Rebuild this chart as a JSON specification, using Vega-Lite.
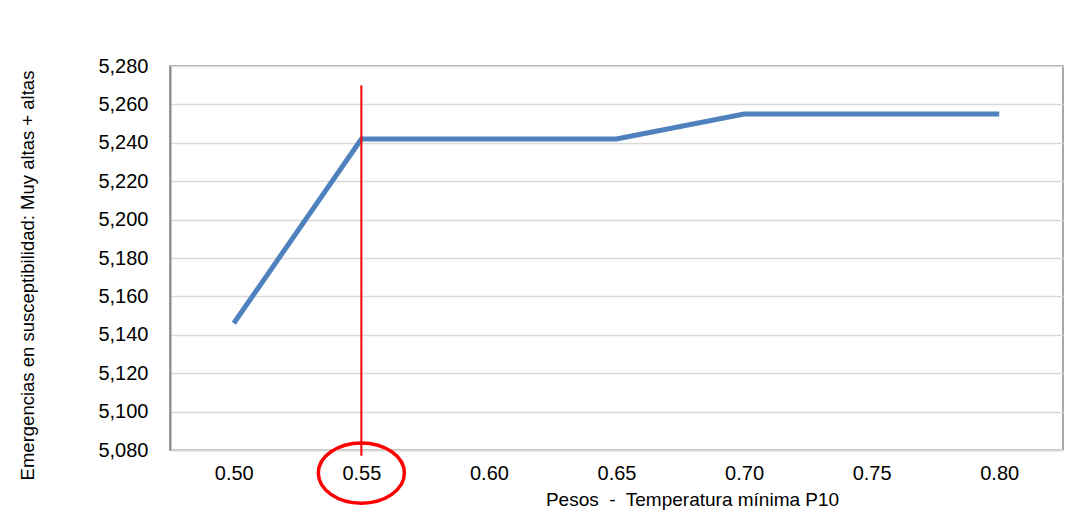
{
  "$schema": "https://vega.github.io/schema/vega-lite/v6.json",
  "autosize": "none",
  "padding": {"left": 170, "top": 66, "right": 11, "bottom": 74},
  "width": 893,
  "height": 384,
  "background": "white",
  "config": {
    "font": "Liberation Sans",
    "view": {"stroke": "#8c8c8c", "strokeWidth": 1.5},
    "axisY": {
      "titleFont": "Liberation Sans",
      "titleFontSize": 18.5,
      "titleFontWeight": "normal",
      "titleColor": "#000000",
      "titleX": -143,
      "titleY": 209,
      "titleAngle": -90,
      "titleAlign": "center",
      "titleBaseline": "middle",
      "labelOverlap": false,
      "labelFontSize": 20,
      "labelColor": "#000000",
      "labelPadding": 22,
      "ticks": false,
      "domainColor": "#8c8c8c",
      "domainWidth": 2,
      "gridColor": "#d9d9d9",
      "gridWidth": 1.5
    }
  },
  "datasets": {
    "serie": [
      {"peso": "0.50", "emergencias": 5146},
      {"peso": "0.55", "emergencias": 5242},
      {"peso": "0.60", "emergencias": 5242},
      {"peso": "0.65", "emergencias": 5242},
      {"peso": "0.70", "emergencias": 5255},
      {"peso": "0.75", "emergencias": 5255},
      {"peso": "0.80", "emergencias": 5255}
    ],
    "marca": [
      {"peso": "0.55", "desde": 5270, "hasta": 5077, "circulo": 5068}
    ]
  },
  "encoding": {
    "x": {
      "field": "peso",
      "type": "ordinal",
      "scale": {"type": "point", "padding": 0.5, "domain": ["0.50", "0.55", "0.60", "0.65", "0.70", "0.75", "0.80"]},
      "axis": {
        "title": "Pesos \u00a0-\u00a0 Temperatura mínima P10",
        "titleFont": "Liberation Sans",
        "titleFontSize": 19,
        "titleFontWeight": "normal",
        "titleColor": "#000000",
        "titleX": 522,
        "titleY": 49,
        "titleAlign": "center",
        "titleBaseline": "middle",
        "labelAngle": 0,
        "labelFontSize": 20,
        "labelColor": "#000000",
        "labelPadding": 13,
        "ticks": false,
        "domainColor": "#d9d9d9",
        "domainWidth": 2,
        "grid": false
      }
    }
  },
  "layer": [
    {
      "data": {"name": "serie"},
      "mark": {"type": "line", "color": "#4f81bd", "strokeWidth": 5},
      "encoding": {
        "y": {
          "field": "emergencias",
          "type": "quantitative",
          "scale": {"domain": [5080, 5280], "nice": false, "zero": false},
          "axis": {
            "title": "Emergencias en susceptibilidad: Muy altas + altas",
            "values": [5080, 5100, 5120, 5140, 5160, 5180, 5200, 5220, 5240, 5260, 5280],
            "format": ",.0f"
          }
        }
      }
    },
    {
      "data": {"name": "marca"},
      "mark": {"type": "rule", "color": "#ff0000", "strokeWidth": 2, "clip": false},
      "encoding": {
        "y": {
          "field": "desde",
          "type": "quantitative",
          "axis": {
            "title": "Emergencias en susceptibilidad: Muy altas + altas",
            "values": [5080, 5100, 5120, 5140, 5160, 5180, 5200, 5220, 5240, 5260, 5280],
            "format": ",.0f"
          }
        },
        "y2": {"field": "hasta"}
      }
    },
    {
      "data": {"name": "marca"},
      "mark": {
        "type": "point",
        "shape": "M -1 0 A 1 0.7 0 1 0 1 0 A 1 0.7 0 1 0 -1 0 Z",
        "filled": false,
        "color": "#ff0000",
        "strokeWidth": 3.5,
        "size": 7400,
        "opacity": 1,
        "clip": false
      },
      "encoding": {
        "y": {
          "field": "circulo",
          "type": "quantitative",
          "axis": {
            "title": "Emergencias en susceptibilidad: Muy altas + altas",
            "values": [5080, 5100, 5120, 5140, 5160, 5180, 5200, 5220, 5240, 5260, 5280],
            "format": ",.0f"
          }
        }
      }
    }
  ]
}
